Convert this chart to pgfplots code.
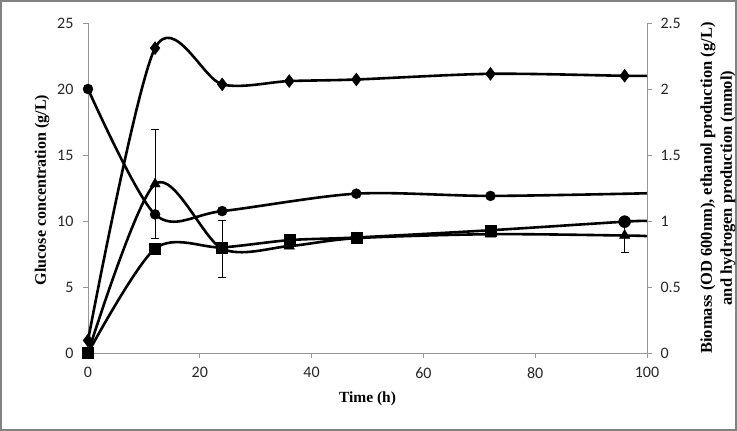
\documentclass[border=0pt]{standalone}
\usepackage{pgfplots}
\pgfplotsset{compat=1.18}
\usepackage{fontspec}
\setmainfont{Liberation Serif}
\setsansfont{Carlito}
\definecolor{axgray}{RGB}{150,150,150}
\definecolor{framegray}{RGB}{130,130,130}
\begin{document}
\begin{tikzpicture}
\useasboundingbox (-88pt,-78pt) rectangle (649pt,353pt);
\draw[framegray, line width=2pt] (-87pt,-77pt) rectangle (648pt,352pt);
\begin{axis}[
  at={(0pt,0pt)}, anchor=south west,
  scale only axis, width=559pt, height=330pt,
  xmin=0, xmax=100, ymin=0, ymax=25,
  axis x line*=bottom, axis y line*=left,
  axis line style={axgray, line width=0.8pt},
  tick style={axgray, line width=0.8pt},
  tick align=outside, major tick length=5pt,
  xtick={0,20,...,100}, ytick={0,5,...,25},
  ticklabel style={font=\sffamily\fontsize{16}{16}\selectfont, text=black!85},
  xticklabel style={yshift=-6pt},
  yticklabel style={xshift=-6pt},
  /pgf/number format/assume math mode=true,
  xlabel={Time (h)}, ylabel={Glucose concentration (g/L)},
  xlabel style={font=\bfseries\fontsize{15.5}{19}\selectfont, at={(axis description cs:0.5,-0.139)}, anchor=center},
  ylabel style={font=\bfseries\fontsize{16}{19}\selectfont, at={(axis description cs:-0.082,0.494)}, anchor=center},
  clip=false,
]
% glucose (circles)
\addplot[black, line width=2.6pt, smooth] coordinates {(0,20) (12,10.5) (24,10.75) (48,12.07) (72,11.9) (100,12.1)};
\addplot[only marks, mark=*, mark size=5pt, black] coordinates {(0,20) (12,10.5) (24,10.75) (48,12.07) (72,11.9)};
% diamonds
\addplot[black, line width=2.6pt, smooth] coordinates {(0,0.95) (12,23.1) (24,20.35) (36,20.6) (48,20.72) (72,21.15) (96,21.0) (100,21.0)};
\addplot[only marks, mark=diamond*, mark size=6.5pt, black] coordinates {(0,0.95) (12,23.1) (24,20.35) (36,20.6) (48,20.72) (72,21.15) (96,21.0)};
% squares
\addplot[black, line width=2.6pt, smooth] coordinates {(0,0) (12,7.9) (24,8.0) (36,8.55) (48,8.75) (72,9.3) (96,9.95) (100,10.0)};
\addplot[only marks, mark=square*, mark size=5.5pt, black] coordinates {(0,0) (12,7.9) (24,8.0) (36,8.55) (48,8.75) (72,9.3)};
\addplot[only marks, mark=*, mark size=6pt, black] coordinates {(96,9.95)};
% triangles
\addplot[black, line width=2.6pt, smooth] coordinates {(0,0) (12,12.8) (24,7.9) (36,8.1) (48,8.7) (72,9.0) (96,8.9) (100,8.85)};
\addplot[only marks, mark=triangle*, mark size=6pt, black,
  error bars/.cd, y dir=both, y explicit,
  error bar style={line width=1.1pt},
  error mark options={rotate=90, mark size=4pt, line width=1.1pt}]
  coordinates {(0,0) +- (0,0) (12,12.8) +- (0,4.1) (24,7.9) +- (0,2.15) (36,8.1) +- (0,0) (48,8.7) +- (0,0) (72,9.0) +- (0,0) (96,8.9) +- (0,1.3)};
\end{axis}
\begin{axis}[
  at={(0pt,0pt)}, anchor=south west,
  scale only axis, width=559pt, height=330pt,
  xmin=0, xmax=100, ymin=0, ymax=2.5,
  hide x axis, axis y line*=right,
  axis line style={axgray, line width=0.8pt},
  tick style={axgray, line width=0.8pt},
  tick align=outside, major tick length=5pt,
  ytick={0,0.5,...,2.5},
  yticklabels={0,0.5,1,1.5,2,2.5},
  ticklabel style={font=\sffamily\fontsize{16}{16}\selectfont, text=black!85},
  yticklabel style={xshift=5pt},
  /pgf/number format/assume math mode=true,
  ylabel={Biomass (OD 600nm), ethanol production (g/L)\\and hydrogen production (mmol)},
  ylabel style={font=\bfseries\fontsize{16.5}{20}\selectfont, at={(axis description cs:1.127,0.5)}, anchor=center, align=center},
]
\end{axis}
\end{tikzpicture}
\end{document}
